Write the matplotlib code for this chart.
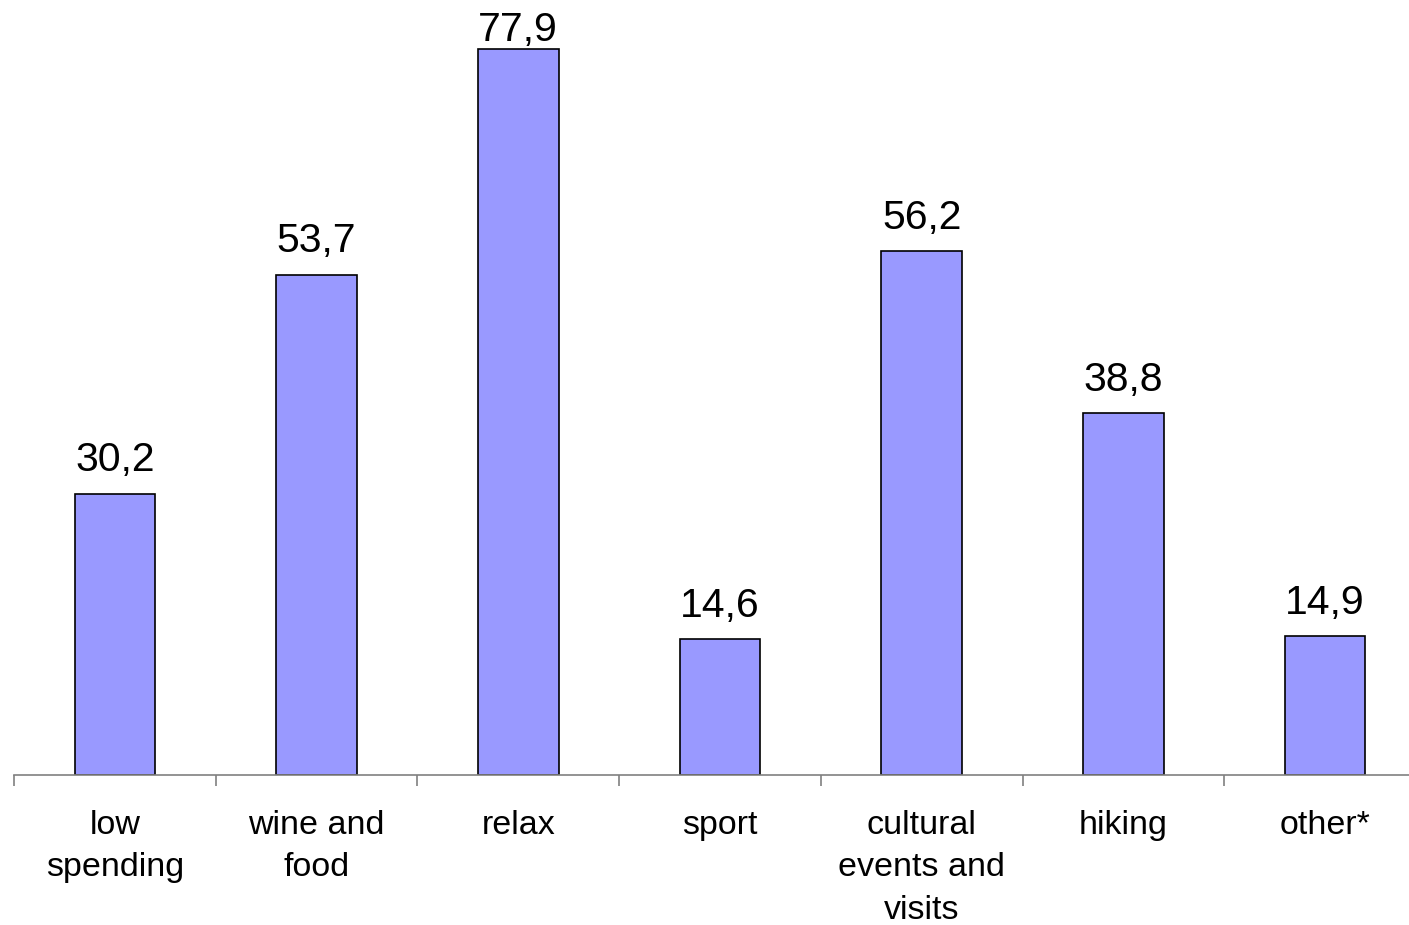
import matplotlib
matplotlib.use("Agg")
import matplotlib.pyplot as plt
import numpy as np

plt.rcParams['font.family'] = ['Liberation Sans', 'DejaVu Sans']

# data
categories = ['low\nspending', 'wine and\nfood', 'relax', 'sport',
              'cultural\nevents and\nvisits', 'hiking', 'other*']
values = [30.2, 53.7, 77.9, 14.6, 56.2, 38.8, 14.9]

fig = plt.figure(figsize=(14.09, 9.25), dpi=100)
ax = fig.add_axes([0.00994, 0.1622, 1.0021, 0.806])

x = np.arange(len(categories))
ax.bar(x, values, width=0.4, color='#9999FF', edgecolor='black', linewidth=1.2)

vmax = max(values)
for xi, v in zip(x, values):
    # the tallest label is pushed down so it stays inside the picture
    off = 6 if v == vmax else 16
    ax.annotate(f"{v:.1f}".replace('.', ','), (xi, v), xytext=(0, off),
                textcoords='offset points', ha='center', va='baseline',
                fontsize=29.5, annotation_clip=False)

ax.set_xlim(-0.5, len(categories) - 0.5)
ax.set_ylim(0, 80)

# category boundary ticks
ax.set_xticks(np.arange(len(categories)) - 0.5)
ax.set_xticklabels([])
ax.tick_params(axis='x', which='major', direction='out', length=8,
               width=1.2, color='#808080')
ax.set_xticks(x, minor=True)
ax.set_xticklabels(categories, minor=True, fontsize=24.5, linespacing=1.48)
ax.tick_params(axis='x', which='minor', length=0, pad=25)

ax.set_yticks([])
for s in ['left', 'right', 'top']:
    ax.spines[s].set_visible(False)
ax.spines['bottom'].set_color('#808080')
ax.spines['bottom'].set_linewidth(1.2)

fig.savefig('out.png', dpi=100)
